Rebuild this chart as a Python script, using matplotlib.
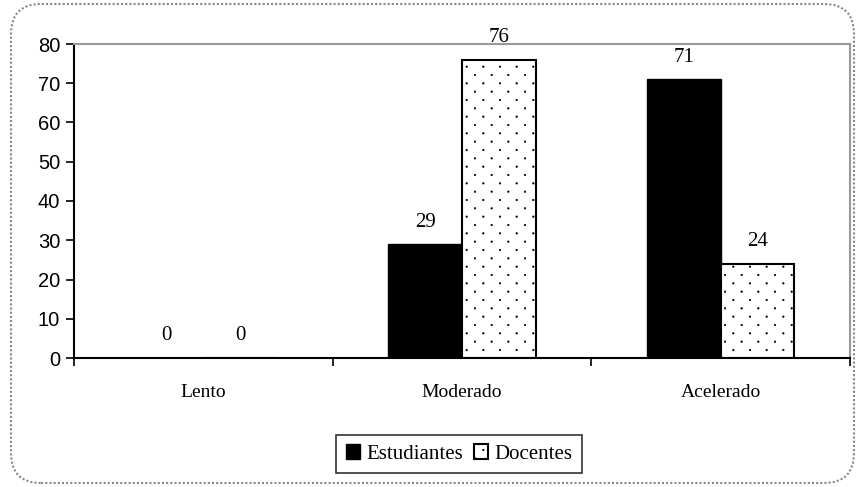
import matplotlib.pyplot as plt
import matplotlib.hatch as mhatch
from matplotlib.path import Path
import numpy as np
from matplotlib.patches import FancyBboxPatch

categorias = ['Lento', 'Moderado', 'Acelerado']
estudiantes = [0, 29, 71]
docentes = [0, 76, 24]
y_ticks = [0, 10, 20, 30, 40, 50, 60, 70, 80]


# trama de puntos al tresbolillo (filas a media distancia, como en Excel)
class PuntosAlternos(mhatch.HatchPatternBase):
    def __init__(self, hatch, density):
        n = hatch.count('.') * density
        circ = Path.unit_circle()
        self.cv, self.cc = circ.vertices, circ.codes
        self.pts = []
        if n:
            paso = 1.0 / n
            for i in range(2 * n + 1):
                yy = i * paso / 2
                if i % 2 == 0:
                    xs = np.linspace(0, 1, n + 1)
                else:
                    xs = np.linspace(paso / 2, 1 - paso / 2, n)
                self.pts += [(xx, yy) for xx in xs]
        self.num_vertices = len(self.pts) * len(self.cv)

    def set_vertices_and_codes(self, vertices, codes):
        k = len(self.cv)
        for j, (px, py) in enumerate(self.pts):
            vertices[j * k:(j + 1) * k] = self.cv * 0.008 + (px, py)
            codes[j * k:(j + 1) * k] = self.cc


mhatch._hatch_types = [PuntosAlternos if t is mhatch.SmallFilledCircles else t
                       for t in mhatch._hatch_types]

plt.rcParams['hatch.linewidth'] = 0.4
plt.rcParams['hatch.color'] = '#333333'

fig = plt.figure(figsize=(8.6, 4.87), dpi=100)
ax = fig.add_axes([74 / 860, 1 - 358 / 487, (850 - 74) / 860, (358 - 44) / 487])

# borde redondeado punteado
borde = FancyBboxPatch((11 / 860, 4 / 487), 843 / 860, 479 / 487,
                       boxstyle='round,pad=0,rounding_size=0.035',
                       transform=fig.transFigure, facecolor='none',
                       edgecolor='#888888', linewidth=1.5, linestyle=(0, (1, 1)),
                       mutation_aspect=860 / 487)
fig.patches.append(borde)

x = np.arange(len(categorias))
w = 0.285
b1 = ax.bar(x - w / 2, estudiantes, w, color='black', edgecolor='black', linewidth=1, label='Estudiantes')
b2 = ax.bar(x + w / 2, docentes, w, color='white', edgecolor='black', linewidth=1.5,
            hatch='.', label='Docentes')

for barras, vals in [(b1, estudiantes), (b2, docentes)]:
    for b, v in zip(barras, vals):
        ax.annotate(str(v), (b.get_x() + b.get_width() / 2, v), xytext=(0, 9),
                    textcoords='offset points', ha='center', va='bottom',
                    fontsize=15, family='Liberation Serif')

ax.set_xlim(-0.5, 2.5)
ax.set_ylim(0, 80)
ax.set_yticks(y_ticks)
ax.set_yticklabels([str(t) for t in y_ticks], fontsize=14.5, family='Liberation Sans')
ax.tick_params(axis='y', direction='out', length=6, width=1.2, pad=4)

ax.set_xticks(x)
ax.set_xticklabels(categorias, fontsize=14, family='Liberation Serif')
ax.set_xticks([-0.5, 0.5, 1.5, 2.5], minor=True)
ax.tick_params(axis='x', which='major', length=0, pad=19)
ax.tick_params(axis='x', which='minor', direction='out', length=6, width=1.2)

ax.spines['left'].set_linewidth(1.5)
ax.spines['bottom'].set_linewidth(1.5)
ax.spines['top'].set_color('#999999')
ax.spines['right'].set_color('#999999')
ax.spines['top'].set_linewidth(1.5)
ax.spines['right'].set_linewidth(1.5)

leg = fig.legend(handles=[b1, b2], loc='center', bbox_to_anchor=(459 / 860, 1 - 454 / 487),
                 ncol=2, frameon=True, fancybox=False, edgecolor='black',
                 prop={'family': 'Liberation Serif', 'size': 15},
                 handlelength=0.7, handleheight=0.7, handletextpad=0.3,
                 columnspacing=0.5, borderpad=0.45)
leg.get_frame().set_linewidth(1.2)

fig.savefig('out.png', dpi=100)
